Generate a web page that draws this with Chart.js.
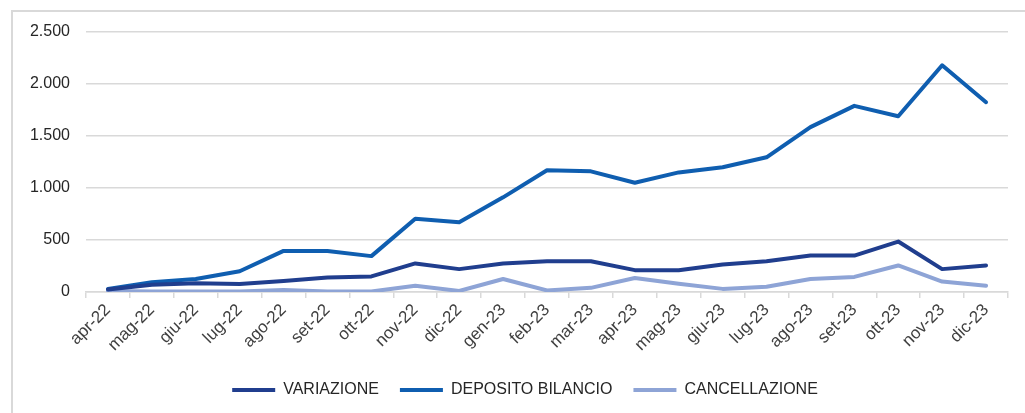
<!DOCTYPE html>
<html>
<head>
<meta charset="utf-8">
<script src="https://cdn.jsdelivr.net/npm/chart.js@4"></script>
<style>
  html, body { margin: 0; padding: 0; background: #fff; }
  #wrap { position: relative; width: 1025px; height: 413px; overflow: hidden; }
  #frame { position: absolute; left: 11px; top: 10px; width: 1100px; height: 500px;
           border-left: 2px solid #d9d9d9; border-top: 2px solid #d9d9d9; }
  canvas { position: absolute; left: 0; top: 0; }
</style>
</head>
<body>
<div id="wrap">
  <div id="frame"></div>
  <canvas id="chart" width="1025" height="413"></canvas>
</div>
<script>
const months = ["apr-22", "mag-22", "giu-22", "lug-22", "ago-22", "set-22", "ott-22", "nov-22", "dic-22",
  "gen-23", "feb-23", "mar-23", "apr-23", "mag-23", "giu-23", "lug-23", "ago-23", "set-23", "ott-23", "nov-23", "dic-23"];

const variazione = [25, 70, 85, 78, 105, 140, 150, 275, 220, 275, 295, 295, 210, 210, 265, 295, 350, 350, 485, 220, 255];
const depositoBilancio = [30, 95, 125, 200, 395, 395, 345, 705, 670, 910, 1170, 1160, 1050, 1150, 1200, 1295, 1585, 1790, 1690, 2180, 1825];
const cancellazione = [10, 5, 5, 5, 20, 5, 5, 60, 10, 125, 15, 40, 135, 80, 30, 50, 125, 145, 255, 100, 60];

const yTicks = [0, 500, 1000, 1500, 2000, 2500];

const fontFamily = "'Liberation Sans', Arial, sans-serif";
const gridColor = "#d9d9d9";

function fmt(v) {
  return v.toString().replace(/\B(?=(\d{3})+(?!\d))/g, ".");
}

// the legend in the original sits a bit right of centre
const legendShift = {
  id: "legendShift",
  afterLayout(chart) { chart.legend.left += 42; }
};

new Chart(document.getElementById("chart"), {
  type: "line",
  data: {
    labels: months,
    datasets: [
      { label: "VARIAZIONE", data: variazione, borderColor: "#203e8e", backgroundColor: "#203e8e" },
      { label: "DEPOSITO BILANCIO", data: depositoBilancio, borderColor: "#0f5eb0", backgroundColor: "#0f5eb0" },
      { label: "CANCELLAZIONE", data: cancellazione, borderColor: "#8ea4d6", backgroundColor: "#8ea4d6" },
    ].map(d => ({ ...d, borderWidth: 4, pointRadius: 0, tension: 0, borderCapStyle: "round", borderJoinStyle: "round" }))
  },
  plugins: [legendShift],
  options: {
    responsive: false,
    animation: false,
    layout: { padding: { top: 32, right: 17, bottom: 5, left: 0 } },
    plugins: {
      tooltip: { enabled: false },
      legend: {
        position: "bottom",
        labels: {
          color: "#262626",
          font: { family: fontFamily, size: 16 },
          boxWidth: 43,
          boxHeight: 4,
          padding: 21,
          generateLabels: chart => chart.data.datasets.map((ds, i) => ({
            text: ds.label, fillStyle: ds.borderColor, strokeStyle: ds.borderColor,
            lineWidth: 0, datasetIndex: i, fontColor: "#262626"
          }))
        }
      }
    },
    scales: {
      x: {
        offset: true,
        grid: { offset: true, drawOnChartArea: false, drawTicks: true, tickLength: 6, color: gridColor, lineWidth: 1.5 },
        border: { color: gridColor, width: 1.5 },
        ticks: { color: "#404040", font: { family: fontFamily, size: 17 }, minRotation: 45, maxRotation: 45, padding: 2, autoSkip: false },
        afterFit: s => { s.height = 69; }
      },
      y: {
        min: 0, max: 2500,
        afterBuildTicks: s => { s.ticks = yTicks.map(v => ({ value: v })); },
        grid: { color: gridColor, lineWidth: 1.5, drawTicks: false },
        border: { display: false },
        ticks: { color: "#262626", font: { family: fontFamily, size: 16 }, padding: 16, callback: v => fmt(v) },
        afterFit: s => { s.width = 86; }
      }
    }
  }
});
</script>
</body>
</html>
